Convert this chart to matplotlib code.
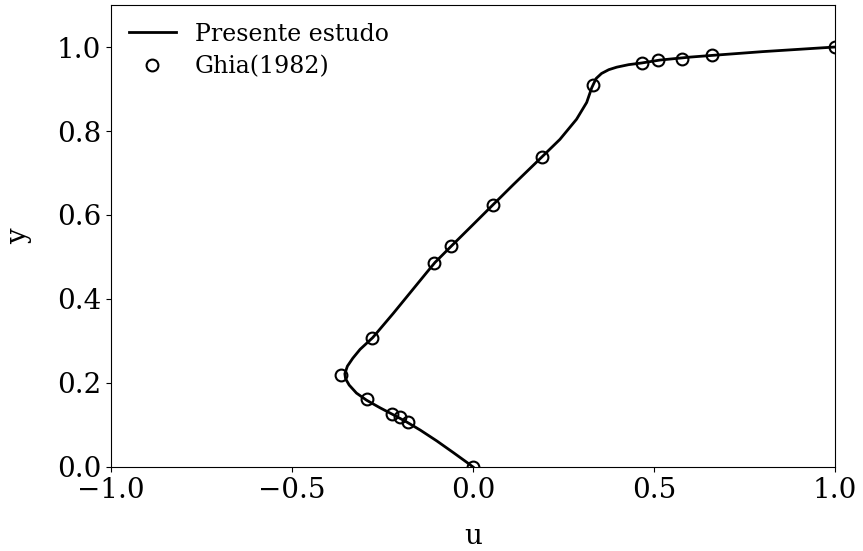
import matplotlib
matplotlib.use("Agg")
import matplotlib.pyplot as plt

# Ghia (1982) reference points
ghia_u = [1.0, 0.661, 0.577, 0.512, 0.466, 0.332, 0.190, 0.056, -0.061,
          -0.108, -0.278, -0.365, -0.294, -0.225, -0.202, -0.180, 0.0]
ghia_y = [1.0, 0.980, 0.972, 0.968, 0.961, 0.909, 0.737, 0.624, 0.525,
          0.485, 0.308, 0.218, 0.163, 0.125, 0.118, 0.108, 0.0]

# present study curve
sim_u = [0.0, -0.017, -0.054, -0.100, -0.146, -0.183, -0.215, -0.257,
         -0.294, -0.322, -0.342, -0.352, -0.354, -0.347, -0.332, -0.312,
         -0.277, -0.220, -0.165, -0.128, -0.105, -0.061, 0.0, 0.056,
         0.111, 0.190, 0.240, 0.286, 0.314, 0.328, 0.340, 0.355, 0.375,
         0.397, 0.430, 0.466, 0.517, 0.600, 0.660, 0.800, 1.0]
sim_y = [0.0, 0.011, 0.034, 0.062, 0.088, 0.107, 0.122, 0.141,
         0.159, 0.176, 0.195, 0.210, 0.222, 0.240, 0.259, 0.280,
         0.308, 0.366, 0.424, 0.463, 0.487, 0.525, 0.577, 0.625,
         0.672, 0.738, 0.780, 0.828, 0.868, 0.903, 0.925, 0.937, 0.946,
         0.952, 0.958, 0.962, 0.969, 0.976, 0.980, 0.989, 1.0]

plt.rcParams['font.family'] = ['DejaVu Serif']

fig = plt.figure(figsize=(8.63, 5.51), dpi=100)
ax = fig.add_axes([0.1286, 0.1525, 0.8390, 0.8384])

ax.plot(sim_u, sim_y, color='black', lw=2.0, label='Presente estudo')
ax.plot(ghia_u, ghia_y, 'o', mfc='none', mec='black', mew=1.5, ms=8.5,
        label='Ghia(1982)')

ax.set_xlim(-1.0, 1.0)
ax.set_ylim(0.0, 1.1)
ax.set_xticks([-1.0, -0.5, 0.0, 0.5, 1.0])
ax.set_yticks([0.0, 0.2, 0.4, 0.6, 0.8, 1.0])
ax.tick_params(labelsize=20)
ax.set_xlabel('u', fontsize=20, labelpad=14)
ax.set_ylabel('y', fontsize=20, labelpad=18)
ax.legend(loc='upper left', frameon=False, fontsize=17,
          labelspacing=0.4, borderaxespad=0.35)

fig.savefig('out.png', dpi=100)
